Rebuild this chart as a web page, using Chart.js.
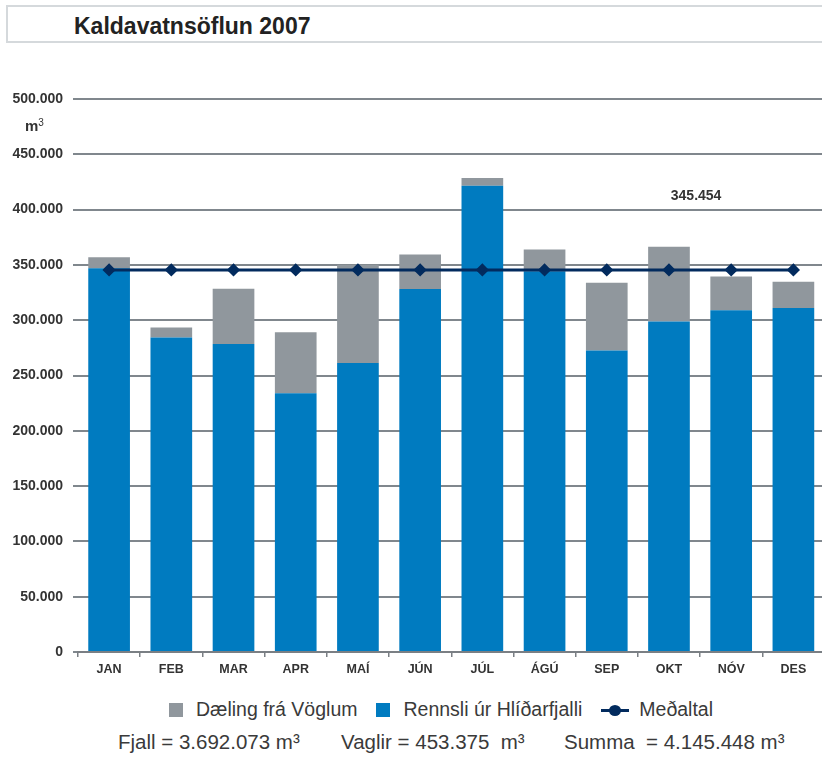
<!DOCTYPE html>
<html>
<head>
<meta charset="utf-8">
<script src="https://cdn.jsdelivr.net/npm/chart.js@4/dist/chart.umd.min.js"></script>
<style>
  html, body { margin: 0; padding: 0; overflow: hidden; background: #fff; width: 822px; height: 763px; }
  body { position: relative; font-family: "Liberation Sans", Arial, sans-serif; color: #333; }
  #titlebox { position: absolute; left: 6px; top: 5px; width: 840px; height: 34px; border: 2px solid #d5d9dc; }
  #title { position: absolute; left: 74px; top: 15px; font-size: 23px; line-height: 1; font-weight: bold; color: #222; white-space: nowrap; }
  #unit { position: absolute; left: 25px; top: 118px; font-size: 15px; line-height: 1; font-weight: bold; color: #333; }
  #unit sup { font-size: 10px; font-weight: normal; vertical-align: 5px; }
  #wrap { position: absolute; left: 0; top: 0; width: 832px; height: 690px; }
  #legend { position: absolute; left: 169px; top: 700px; display: flex; align-items: center; font-size: 19.5px; line-height: 1; color: #3a3a3a; white-space: nowrap; }
  #legend .item { display: flex; align-items: center; margin-right: 19px; }
  #legend .box { width: 14px; height: 14px; margin-right: 13px; }
  #legend .mark { position: relative; width: 28px; height: 12px; margin-right: 10px; }
  #legend .mark .ln { position: absolute; left: 0; top: 5px; width: 28px; height: 3px; }
  #legend .mark .dot { position: absolute; left: 8px; top: 1px; width: 12px; height: 11px; border-radius: 50%; }
  #footer { position: absolute; top: 732px; left: 0; font-size: 20.5px; line-height: 1; color: #3a3a3a; white-space: pre; }
  #footer span { position: absolute; top: 0; }
</style>
</head>
<body>
<div id="titlebox"></div>
<div id="title">Kaldavatnsöflun 2007</div>
<div id="wrap"><canvas id="chart"></canvas></div>
<div id="unit">m<sup>3</sup></div>
<div id="legend"></div>
<div id="footer">
  <span style="left:118px">Fjall = 3.692.073 m³</span>
  <span style="left:341px">Vaglir = 453.375  m³</span>
  <span style="left:564px">Summa  = 4.145.448 m³</span>
</div>
<script>
const months = ["JAN", "FEB", "MAR", "APR", "MAÍ", "JÚN", "JÚL", "ÁGÚ", "SEP", "OKT", "NÓV", "DES"]
// Rennsli úr Hlíðarfjalli (m3)
const rennsli = [346900, 284400, 278400, 234000, 261200, 328200, 421500, 344200, 272700, 298900, 308900, 311000]
// Dæling frá Vöglum (m3)
const daeling = [10000, 9100, 50000, 55000, 89000, 31200, 7000, 19800, 61200, 67600, 30600, 23800]
// Meðaltal
const medaltal = [345454, 345454, 345454, 345454, 345454, 345454, 345454, 345454, 345454, 345454, 345454, 345454]
const yTicks = [0, 50000, 100000, 150000, 200000, 250000, 300000, 350000, 400000, 450000, 500000]

const BLUE = "#007bc0"
const GRAY = "#90979d"
const NAVY = "#022b5e"

const fmt = v => String(v).replace(/\B(?=(\d{3})+(?!\d))/g, ".")

const avgLabel = {
  id: "avgLabel",
  afterDatasetsDraw(chart) {
    const { ctx, scales: { x, y } } = chart
    const cx = (x.getPixelForValue(9) + x.getPixelForValue(10)) / 2 - 4
    const cy = y.getPixelForValue(medaltal[0]) - 74
    ctx.save()
    ctx.font = "bold 14px 'Liberation Sans', Arial, sans-serif"
    ctx.fillStyle = "#333"
    ctx.textAlign = "center"
    ctx.textBaseline = "middle"
    ctx.fillText(fmt(medaltal[0]), cx, cy)
    ctx.restore()
  },
}

const chart = new Chart(document.getElementById("chart"), {
  type: "bar",
  data: {
    labels: months,
    datasets: [
      { label: "Rennsli úr Hlíðarfjalli", data: rennsli, backgroundColor: BLUE, order: 1 },
      { label: "Dæling frá Vöglum", data: daeling, backgroundColor: GRAY, order: 1 },
      {
        type: "line", label: "Meðaltal", data: medaltal, order: 0,
        borderColor: NAVY, backgroundColor: NAVY, borderWidth: 3,
        pointStyle: "rectRot", pointRadius: 4.5, pointHoverRadius: 4.5, tension: 0,
      },
    ],
  },
  options: {
    responsive: true,
    maintainAspectRatio: false,
    animation: false,
    layout: { padding: { top: 99, left: 0, right: 0, bottom: 8 } },
    plugins: { legend: { display: false }, tooltip: { enabled: false } },
    datasets: { bar: { categoryPercentage: 1, barPercentage: 0.67 } },
    scales: {
      x: {
        stacked: true,
        grid: { offset: true, drawOnChartArea: false, drawTicks: true, tickLength: 5, color: "#7a7f84", lineWidth: 1.5 },
        border: { display: true, color: "#7a7f84", width: 2 },
        ticks: { padding: 5, color: "#333", font: { family: "'Liberation Sans', Arial, sans-serif", size: 12.5, weight: "bold" } },
      },
      y: {
        stacked: true,
        min: 0,
        max: 500000,
        afterBuildTicks: axis => { axis.ticks = yTicks.map(v => ({ value: v })) },
        afterFit: axis => { axis.width = 78 },
        grid: { color: "#80878d", lineWidth: 2, tickLength: 5 },
        border: { display: false },
        ticks: { padding: 10, color: "#333", callback: v => fmt(v), font: { family: "'Liberation Sans', Arial, sans-serif", size: 14, weight: "bold" } },
      },
    },
  },
  plugins: [avgLabel],
})

// html legend, in the order of the reference
const legendEl = document.getElementById("legend")
const legendOrder = [1, 0, 2]
legendOrder.forEach(i => {
  const ds = chart.data.datasets[i]
  const item = document.createElement("div")
  item.className = "item"
  if (ds.type === "line") {
    item.innerHTML = `<span class="mark"><span class="ln" style="background:${ds.borderColor}"></span><span class="dot" style="background:${ds.borderColor}"></span></span>${ds.label}`
  } else {
    item.innerHTML = `<span class="box" style="background:${ds.backgroundColor}"></span>${ds.label}`
  }
  legendEl.appendChild(item)
})
</script>
</body>
</html>
